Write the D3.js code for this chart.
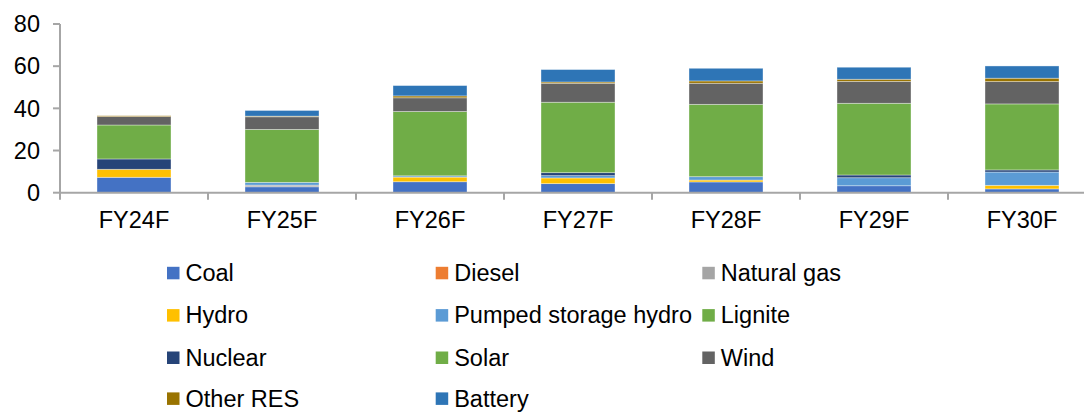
<!DOCTYPE html>
<html>
<head>
<meta charset="utf-8">
<script src="https://cdn.jsdelivr.net/npm/d3@7"></script>
<style>
  html, body { margin: 0; padding: 0; background: #fff; }
  svg { display: block; font-family: "Liberation Sans", Arial, sans-serif; }
</style>
</head>
<body>
<svg id="chart" width="1084" height="412"></svg>
<script>
const categories = ["FY24F", "FY25F", "FY26F", "FY27F", "FY28F", "FY29F", "FY30F"];
const seriesNames = ["Coal", "Diesel", "Natural gas", "Hydro", "Pumped storage hydro", "Lignite", "Nuclear", "Solar", "Wind", "Other RES", "Battery"];
const seriesColors = ["#4472C4", "#ED7D31", "#A5A5A5", "#FFC000", "#5B9BD5", "#70AD47", "#264478", "#70AD47", "#636363", "#997300", "#2E75B6"];
const coal       = [7.3, 2.8, 5.2, 4.3, 5.1, 3.3, 1.8];
const diesel     = [0, 0, 0, 0, 0, 0, 0];
const naturalGas = [0, 0.8, 0, 0, 0, 0, 0];
const hydro      = [3.8, 0, 2.2, 2.7, 0.9, 0, 1.7];
const pumpedHydro= [0, 1.3, 0.6, 1.1, 1.6, 3.8, 6.3];
const lignite    = [0, 0, 0, 0, 0, 0, 0];
const nuclear    = [4.9, 0, 0, 1.4, 0, 1.3, 1.0];
const solar      = [16.1, 25.1, 30.5, 33.4, 34.3, 34.0, 31.3];
const wind       = [4.0, 6.0, 6.5, 9.0, 10.0, 10.4, 10.6];
const otherRes   = [0.4, 0.3, 0.9, 0.6, 1.1, 1.0, 1.6];
const battery    = [0, 2.7, 4.9, 5.9, 6.0, 5.7, 5.8];
const yTicks = [0, 20, 40, 60, 80];

const seriesValues = [coal, diesel, naturalGas, hydro, pumpedHydro, lignite, nuclear, solar, wind, otherRes, battery];
const table = categories.map((c, i) => {
  const row = { cat: c };
  seriesNames.forEach((s, j) => row[s] = seriesValues[j][i]);
  return row;
});

const svg = d3.select("#chart");
const x0 = 60, x1 = 1096, yBase = 192.7, yTop = 24;
const x = d3.scaleBand().domain(categories).range([x0, x1]).paddingInner(0.5).paddingOuter(0.25);
const y = d3.scaleLinear().domain([0, 80]).range([yBase, yTop]);
const stack = d3.stack().keys(seriesNames)(table);
const fontSize = 23.5;
const axisColor = "#A6A6A6";

// bars
svg.append("g").selectAll("g").data(stack).join("g")
  .attr("fill", (d, i) => seriesColors[i])
  .selectAll("rect").data(d => d.filter(p => p[1] - p[0] > 0)).join("rect")
  .attr("x", d => x(d.data.cat))
  .attr("width", x.bandwidth())
  .attr("y", d => y(d[1]))
  .attr("height", d => y(d[0]) - y(d[1]))
  .attr("stroke", "rgba(255,255,255,0.45)")
  .attr("stroke-width", 0.8);

// y axis
const yAxis = svg.append("g");
yAxis.append("line").attr("x1", x0).attr("x2", x0).attr("y1", y(80)).attr("y2", yBase)
  .attr("stroke", axisColor).attr("stroke-width", 2);
yAxis.selectAll("line.t").data(yTicks).join("line").attr("class", "t")
  .attr("x1", 53).attr("x2", x0).attr("y1", d => y(d)).attr("y2", d => y(d))
  .attr("stroke", axisColor).attr("stroke-width", 2);
yAxis.selectAll("text").data(yTicks).join("text")
  .attr("x", 40).attr("y", d => y(d)).attr("dy", "0.35em")
  .attr("text-anchor", "end").attr("font-size", fontSize).attr("fill", "#000")
  .text(d => d);

// x axis
const xAxis = svg.append("g");
xAxis.append("line").attr("x1", x0).attr("x2", x1).attr("y1", yBase).attr("y2", yBase)
  .attr("stroke", axisColor).attr("stroke-width", 2);
const bounds = categories.map(c => x(c) - x.step() * 0.25).concat([x1]);
xAxis.selectAll("line.t").data(bounds).join("line").attr("class", "t")
  .attr("x1", d => d).attr("x2", d => d).attr("y1", yBase).attr("y2", yBase + 7)
  .attr("stroke", axisColor).attr("stroke-width", 2);
xAxis.selectAll("text").data(categories).join("text")
  .attr("x", d => x(d) + x.bandwidth() / 2).attr("y", 228.3)
  .attr("text-anchor", "middle").attr("font-size", fontSize).attr("fill", "#000")
  .text(d => d);

// legend
const colX = [167, 435.7, 702.3];
const rowY = [272.8, 315.1, 357.5, 398.4];
const legend = svg.append("g").selectAll("g").data(seriesNames).join("g")
  .attr("transform", (d, i) => `translate(${colX[i % 3]},${rowY[Math.floor(i / 3)]})`);
legend.append("rect").attr("x", 0).attr("y", -6).attr("width", 12.5).attr("height", 12.5)
  .attr("fill", (d, i) => seriesColors[i]);
legend.append("text").attr("x", 18.5).attr("y", 0).attr("dy", "0.35em")
  .attr("font-size", fontSize).attr("fill", "#000").text(d => d);
</script>
</body>
</html>
